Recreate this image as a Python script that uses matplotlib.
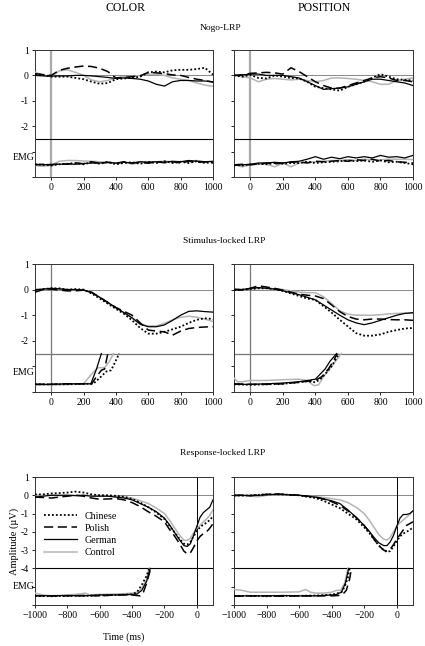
import numpy as np
import matplotlib
matplotlib.use("Agg")
import matplotlib.pyplot as plt
import matplotlib.transforms as mtransforms

plt.rcParams['font.family'] = ['Liberation Serif', 'DejaVu Serif']

groups = ['Chinese', 'Polish', 'German', 'Control']

####################################
# stimulus-locked time grid (ms)
t_stim = [-100, -50, 0, 50, 100, 150, 200, 250, 300, 350, 400, 450, 500,
          550, 600, 650, 700, 750, 800, 850, 900, 950, 1000]

# Nogo-LRP, COLOR
nogo_col_chi = [0.05, 0.02, -0.05, -0.05, -0.05, -0.1, -0.15, -0.25, -0.33, -0.3, -0.15, -0.12,
                -0.1, -0.05, 0.12, 0.15, 0.12, 0.2, 0.22, 0.22, 0.25, 0.3, 0.03]
nogo_col_pol = [0.07, 0.03, 0.0, 0.2, 0.28, 0.33, 0.37, 0.35, 0.28, 0.15, -0.1, -0.08,
                -0.05, -0.02, 0.12, 0.1, 0.07, 0.02, 0.0, -0.08, -0.15, -0.2, -0.27]
nogo_col_ger = [0.0, -0.02, -0.03, -0.02, -0.02, 0.0, 0.0, -0.02, -0.05, -0.08, -0.12, -0.1,
                -0.12, -0.15, -0.22, -0.35, -0.42, -0.25, -0.2, -0.2, -0.22, -0.22, -0.25]
nogo_col_con = [0.13, 0.0, -0.05, 0.18, 0.22, 0.12, 0.0, -0.18, -0.25, -0.2, -0.1, -0.05,
                -0.05, 0.0, 0.05, 0.05, 0.0, -0.1, -0.15, -0.2, -0.3, -0.38, -0.43]
emg_nogo_col_chi = [-3.5, -3.52, -3.55, -3.5, -3.48, -3.45, -3.5, -3.42, -3.48, -3.4, -3.5, -3.45,
                    -3.42, -3.48, -3.4, -3.45, -3.38, -3.45, -3.4, -3.45, -3.38, -3.45, -3.42]
emg_nogo_col_pol = [-3.52, -3.5, -3.53, -3.48, -3.5, -3.44, -3.48, -3.4, -3.46, -3.42, -3.47, -3.4,
                    -3.45, -3.42, -3.46, -3.4, -3.44, -3.4, -3.45, -3.38, -3.42, -3.4, -3.45]
emg_nogo_col_ger = [-3.5, -3.52, -3.5, -3.5, -3.48, -3.5, -3.47, -3.45, -3.45, -3.43, -3.45, -3.42,
                    -3.45, -3.4, -3.42, -3.4, -3.42, -3.38, -3.4, -3.35, -3.38, -3.4, -3.38]
emg_nogo_col_con = [-3.55, -3.58, -3.52, -3.38, -3.35, -3.35, -3.37, -3.38, -3.4, -3.42, -3.45, -3.4,
                    -3.5, -3.42, -3.4, -3.4, -3.38, -3.4, -3.4, -3.38, -3.35, -3.4, -3.4]

# Nogo-LRP, POSITION
nogo_pos_chi = [0.0, -0.05, 0.02, -0.1, -0.12, 0.0, -0.05, -0.1, -0.12, -0.25, -0.45, -0.5,
                -0.55, -0.6, -0.45, -0.35, -0.25, -0.1, 0.05, -0.05, -0.15, -0.18, -0.2]
nogo_pos_pol = [0.0, 0.02, 0.08, 0.1, 0.12, 0.1, 0.05, 0.3, 0.15, -0.05, -0.25, -0.4,
                -0.5, -0.5, -0.4, -0.3, -0.2, -0.1, -0.05, -0.1, -0.2, -0.2, -0.25]
nogo_pos_ger = [0.0, 0.02, 0.05, 0.05, 0.0, 0.0, 0.0, -0.05, -0.1, -0.25, -0.4, -0.55,
                -0.52, -0.5, -0.45, -0.35, -0.25, -0.15, -0.15, -0.2, -0.25, -0.3, -0.4]
nogo_pos_con = [0.0, -0.05, -0.1, -0.25, -0.15, -0.12, -0.15, -0.18, -0.15, -0.2, -0.25, -0.2,
                -0.1, -0.1, -0.12, -0.15, -0.2, -0.25, -0.35, -0.35, -0.2, -0.15, -0.1]
emg_nogo_pos_chi = [-3.52, -3.55, -3.5, -3.48, -3.5, -3.45, -3.48, -3.45, -3.45, -3.4, -3.45, -3.42,
                    -3.4, -3.38, -3.35, -3.38, -3.35, -3.4, -3.35, -3.42, -3.4, -3.45, -3.5]
emg_nogo_pos_pol = [-3.52, -3.5, -3.52, -3.48, -3.45, -3.48, -3.45, -3.42, -3.4, -3.45, -3.38, -3.4,
                    -3.38, -3.35, -3.38, -3.32, -3.35, -3.3, -3.38, -3.35, -3.4, -3.42, -3.45]
emg_nogo_pos_ger = [-3.55, -3.52, -3.5, -3.45, -3.45, -3.42, -3.45, -3.4, -3.38, -3.3, -3.2, -3.3,
                    -3.22, -3.28, -3.2, -3.25, -3.2, -3.25, -3.15, -3.22, -3.2, -3.25, -3.15]
emg_nogo_pos_con = [-3.5, -3.6, -3.52, -3.5, -3.5, -3.6, -3.45, -3.6, -3.45, -3.42, -3.4, -3.38,
                    -3.35, -3.35, -3.32, -3.35, -3.3, -3.32, -3.32, -3.3, -3.3, -3.3, -3.32]

# Stimulus-locked LRP, COLOR
stim_col_chi = [-0.05, 0.02, 0.05, 0.05, 0.0, 0.02, 0.0, -0.15, -0.35, -0.55, -0.75, -0.95,
                -1.2, -1.5, -1.72, -1.72, -1.65, -1.55, -1.45, -1.3, -1.18, -1.12, -1.15]
stim_col_pol = [-0.1, 0.0, 0.02, -0.02, -0.05, -0.05, -0.02, -0.1, -0.3, -0.5, -0.7, -0.85,
                -1.0, -1.3, -1.58, -1.62, -1.65, -1.78, -1.62, -1.52, -1.48, -1.46, -1.45]
stim_col_ger = [0.0, 0.02, 0.05, 0.03, 0.0, 0.0, -0.02, -0.12, -0.3, -0.5, -0.7, -0.9,
                -1.1, -1.35, -1.45, -1.45, -1.38, -1.2, -1.0, -0.85, -0.83, -0.86, -0.88]
stim_col_con = [0.0, 0.0, 0.02, 0.02, 0.0, 0.0, -0.02, -0.12, -0.3, -0.52, -0.72, -0.92,
                -1.12, -1.35, -1.42, -1.42, -1.32, -1.18, -1.08, -1.04, -1.08, -1.15, -1.25]

# Stimulus-locked LRP, POSITION
stim_pos_chi = [-0.02, 0.0, 0.02, 0.05, 0.05, 0.02, -0.05, -0.15, -0.25, -0.35, -0.4, -0.65,
                -0.9, -1.18, -1.44, -1.7, -1.8, -1.8, -1.75, -1.65, -1.58, -1.52, -1.5]
stim_pos_pol = [0.0, -0.02, 0.05, 0.15, 0.1, 0.05, -0.02, -0.1, -0.18, -0.22, -0.25, -0.35,
                -0.6, -0.86, -1.05, -1.15, -1.18, -1.15, -1.15, -1.17, -1.18, -1.18, -1.2]
stim_pos_ger = [0.02, 0.0, 0.05, 0.08, 0.05, 0.02, -0.05, -0.12, -0.2, -0.3, -0.4, -0.6,
                -0.8, -1.0, -1.18, -1.3, -1.37, -1.3, -1.2, -1.1, -1.0, -0.93, -0.9]
stim_pos_con = [0.02, 0.0, 0.02, 0.05, 0.05, 0.03, 0.0, -0.05, -0.1, -0.12, -0.12, -0.28,
                -0.54, -0.83, -0.96, -1.0, -1.0, -1.0, -0.98, -0.95, -0.93, -0.92, -0.92]

# Stimulus-locked EMG onsets (own time points, end at the separator line)
emg_stim_col_chi_t = [-100, 0, 100, 200, 260, 300, 340, 370, 390, 420]
emg_stim_col_chi = [-3.7, -3.7, -3.7, -3.68, -3.68, -3.45, -3.2, -3.15, -2.9, -2.5]
emg_stim_col_pol_t = [-100, 0, 100, 200, 250, 280, 310, 330, 350]
emg_stim_col_pol = [-3.7, -3.7, -3.68, -3.68, -3.68, -3.4, -3.15, -3.1, -2.5]
emg_stim_col_ger_t = [-100, 0, 100, 200, 245, 280, 310]
emg_stim_col_ger = [-3.7, -3.7, -3.68, -3.68, -3.68, -3.1, -2.5]
emg_stim_col_con_t = [-100, 0, 100, 200, 250, 290, 330, 360, 385]
emg_stim_col_con = [-3.72, -3.72, -3.7, -3.68, -3.3, -3.05, -3.05, -2.8, -2.5]

emg_stim_pos_chi_t = [-100, 0, 100, 200, 300, 350, 400, 430, 460, 500, 545]
emg_stim_pos_chi = [-3.7, -3.72, -3.7, -3.68, -3.62, -3.58, -3.62, -3.5, -3.3, -3.0, -2.5]
emg_stim_pos_pol_t = [-100, 0, 100, 200, 300, 350, 400, 440, 480, 510, 535]
emg_stim_pos_pol = [-3.68, -3.7, -3.7, -3.68, -3.62, -3.58, -3.55, -3.4, -3.1, -2.8, -2.5]
emg_stim_pos_ger_t = [-100, 0, 100, 200, 300, 350, 400, 430, 460, 490, 530]
emg_stim_pos_ger = [-3.7, -3.7, -3.68, -3.65, -3.6, -3.55, -3.5, -3.3, -3.1, -2.8, -2.5]
emg_stim_pos_con_t = [-100, -80, -50, 0, 100, 200, 300, 350, 390, 420, 450, 500, 560]
emg_stim_pos_con = [-3.45, -3.6, -3.6, -3.55, -3.55, -3.52, -3.5, -3.55, -3.75, -3.72, -3.4, -3.0, -2.5]

####################################
# response-locked time grid (ms)
t_resp = [-1000, -950, -900, -850, -800, -750, -700, -650, -600, -550, -500, -450, -400,
          -350, -300, -250, -200, -170, -140, -110, -80, -60, -40, -20, 0, 20, 40, 60, 80, 100]

resp_col_chi = [0.05, 0.05, 0.1, 0.12, 0.15, 0.2, 0.15, 0.05, 0.0, 0.0, -0.03, -0.08, -0.2,
                -0.4, -0.65, -0.95, -1.3, -1.65, -2.0, -2.35, -2.65, -2.7, -2.55, -2.25, -1.95,
                -1.75, -1.6, -1.5, -1.35, -1.15]
resp_col_pol = [-0.1, -0.12, -0.15, -0.1, -0.05, 0.0, -0.05, -0.15, -0.22, -0.2, -0.18, -0.25, -0.4,
                -0.62, -0.9, -1.15, -1.45, -1.85, -2.2, -2.6, -3.05, -3.2, -3.15, -2.85, -2.5,
                -2.25, -2.1, -2.0, -1.8, -1.55]
resp_col_ger = [-0.1, -0.05, 0.0, 0.0, 0.0, -0.02, 0.0, -0.05, -0.05, -0.05, -0.1, -0.15, -0.25,
                -0.45, -0.65, -0.9, -1.25, -1.6, -2.0, -2.4, -2.75, -2.8, -2.65, -2.2, -1.7,
                -1.2, -0.95, -0.8, -0.65, -0.25]
resp_col_con = [0.02, 0.0, 0.0, -0.02, 0.0, 0.0, 0.0, -0.02, 0.0, -0.02, -0.05, -0.1, -0.15,
                -0.3, -0.45, -0.7, -1.0, -1.35, -1.75, -2.15, -2.45, -2.47, -2.35, -2.05, -1.8,
                -1.65, -1.45, -1.3, -1.1, -0.8]

resp_pos_chi = [0.0, -0.02, 0.0, 0.02, 0.05, 0.05, 0.05, 0.02, 0.0, -0.08, -0.15, -0.3, -0.5,
                -0.7, -1.0, -1.3, -1.75, -2.05, -2.4, -2.75, -3.0, -3.1, -3.05, -2.8, -2.5,
                -2.25, -2.1, -2.0, -1.9, -1.75]
resp_pos_pol = [-0.02, 0.0, -0.02, 0.02, 0.05, 0.08, 0.05, 0.02, 0.0, -0.05, -0.1, -0.2, -0.35,
                -0.55, -0.85, -1.2, -1.65, -2.0, -2.4, -2.75, -3.0, -3.05, -2.95, -2.7, -2.4,
                -2.15, -1.9, -1.65, -1.55, -1.45]
resp_pos_ger = [0.0, 0.0, -0.02, 0.0, 0.03, 0.05, 0.05, 0.02, 0.0, -0.05, -0.1, -0.2, -0.3,
                -0.45, -0.8, -1.2, -1.65, -1.95, -2.3, -2.6, -2.75, -2.75, -2.55, -2.2, -1.7,
                -1.25, -1.05, -1.05, -1.0, -0.85]
resp_pos_con = [0.05, 0.0, -0.05, -0.08, 0.0, 0.02, 0.02, 0.0, 0.0, -0.05, -0.08, -0.12, -0.18,
                -0.25, -0.4, -0.65, -1.0, -1.35, -1.75, -2.15, -2.4, -2.45, -2.3, -2.0, -1.7,
                -1.5, -1.35, -1.2, -1.05, -0.85]

emg_resp_col_chi_t = [-1000, -900, -800, -700, -600, -500, -400, -370, -340, -310, -295]
emg_resp_col_chi = [-5.5, -5.52, -5.5, -5.5, -5.48, -5.45, -5.42, -5.3, -4.9, -4.4, -4.0]
emg_resp_col_pol_t = [-1000, -900, -800, -700, -600, -500, -400, -350, -330, -310, -285]
emg_resp_col_pol = [-5.5, -5.5, -5.5, -5.48, -5.5, -5.45, -5.45, -5.5, -5.3, -4.8, -4.0]
emg_resp_col_ger_t = [-1000, -900, -800, -700, -600, -500, -400, -370, -340, -310, -288]
emg_resp_col_ger = [-5.48, -5.5, -5.48, -5.5, -5.45, -5.45, -5.42, -5.4, -5.2, -4.7, -4.0]
emg_resp_col_con_t = [-1000, -950, -900, -800, -720, -690, -660, -600, -500, -450, -400, -370,
                      -340, -310, -295]
emg_resp_col_con = [-5.35, -5.45, -5.5, -5.45, -5.4, -5.35, -5.45, -5.42, -5.4, -5.38, -5.35,
                    -5.3, -5.1, -4.6, -4.0]

emg_resp_pos_chi_t = [-1000, -900, -800, -700, -600, -500, -420, -380, -340, -320, -300, -290]
emg_resp_pos_chi = [-5.5, -5.5, -5.52, -5.5, -5.5, -5.48, -5.45, -5.4, -5.3, -5.0, -4.5, -4.0]
emg_resp_pos_pol_t = [-1000, -900, -800, -700, -600, -500, -400, -360, -330, -310, -290, -278]
emg_resp_pos_pol = [-5.52, -5.5, -5.5, -5.52, -5.5, -5.5, -5.5, -5.48, -5.4, -5.2, -4.6, -4.0]
emg_resp_pos_ger_t = [-1000, -900, -800, -700, -600, -500, -400, -370, -340, -315, -295]
emg_resp_pos_ger = [-5.5, -5.5, -5.5, -5.48, -5.5, -5.5, -5.45, -5.42, -5.3, -4.8, -4.0]
emg_resp_pos_con_t = [-1000, -950, -900, -800, -700, -600, -560, -530, -500, -450, -400, -370,
                      -345, -320, -300]
emg_resp_pos_con = [-5.15, -5.2, -5.3, -5.3, -5.3, -5.28, -5.15, -5.3, -5.35, -5.35, -5.3, -5.2,
                    -5.2, -4.8, -4.0]

####################################

styles = [dict(color='black', lw=1.3, ls=(0, (1, 1.2))),
          dict(color='black', lw=1.1, ls=(0, (6, 3))),
          dict(color='black', lw=0.9, ls='-'),
          dict(color='#b4b4b4', lw=1.1, ls='-')]

W, H = 425, 646
fig = plt.figure(figsize=(W / 100, H / 100), dpi=100)


def make_ax(x0, x1, y0, y1):
    return fig.add_axes([x0 / W, 1 - y1 / H, (x1 - x0) / W, (y1 - y0) / H])


def dress(ax, kind, left):
    for s in ax.spines.values():
        s.set_linewidth(0.7)
        s.set_color('#333333')
    ax.tick_params(direction='out', length=2.5, width=0.6, labelsize=7, pad=2)
    ax.axhline(0, color='#888888', lw=0.7, zorder=1)
    if kind == 'resp':
        ax.set_xlim(-1000, 100)
        ax.set_ylim(-6, 1)
        ax.set_xticks(range(-1000, 1, 200))
        ax.set_yticks(range(1, -7, -1))
        ax.set_yticklabels(['1', '0', '-1', '-2', '-3', '-4', '', ''] if left else [])
        ax.axvline(0, color='black', lw=0.7, zorder=1)
        ax.axhline(-4, color='black', lw=0.8, zorder=1)
        emg_y = -5.0
    else:
        ax.set_xlim(-100, 1000)
        ax.set_ylim(-4, 1)
        ax.set_xticks(range(0, 1001, 200))
        ax.set_yticks(range(1, -5, -1))
        ax.set_yticklabels(['1', '0', '-1', '-2', '', ''] if left else [])
        if kind == 'nogo':
            ax.axvline(0, color='#aaaaaa', lw=1.6, zorder=1)
            ax.axhline(-2.5, color='black', lw=0.8, zorder=1)
        else:
            ax.axvline(0, color='#777777', lw=0.9, zorder=1)
            ax.axhline(-2.5, color='#777777', lw=0.9, zorder=1)
        emg_y = -3.25
    if left:
        tr = mtransforms.blended_transform_factory(ax.transAxes, ax.transData)
        ax.text(-0.005, emg_y, 'EMG', transform=tr, ha='right', va='center', fontsize=7)


# columns (pixel edges) and rows
colx = [(35, 213), (234, 413)]
rows = [(50, 177), (264, 392), (477, 605)]

panels = [
    ('nogo', 0, 0, t_stim, [nogo_col_chi, nogo_col_pol, nogo_col_ger, nogo_col_con],
     [(t_stim, emg_nogo_col_chi), (t_stim, emg_nogo_col_pol), (t_stim, emg_nogo_col_ger), (t_stim, emg_nogo_col_con)]),
    ('nogo', 0, 1, t_stim, [nogo_pos_chi, nogo_pos_pol, nogo_pos_ger, nogo_pos_con],
     [(t_stim, emg_nogo_pos_chi), (t_stim, emg_nogo_pos_pol), (t_stim, emg_nogo_pos_ger), (t_stim, emg_nogo_pos_con)]),
    ('stim', 1, 0, t_stim, [stim_col_chi, stim_col_pol, stim_col_ger, stim_col_con],
     [(emg_stim_col_chi_t, emg_stim_col_chi), (emg_stim_col_pol_t, emg_stim_col_pol),
      (emg_stim_col_ger_t, emg_stim_col_ger), (emg_stim_col_con_t, emg_stim_col_con)]),
    ('stim', 1, 1, t_stim, [stim_pos_chi, stim_pos_pol, stim_pos_ger, stim_pos_con],
     [(emg_stim_pos_chi_t, emg_stim_pos_chi), (emg_stim_pos_pol_t, emg_stim_pos_pol),
      (emg_stim_pos_ger_t, emg_stim_pos_ger), (emg_stim_pos_con_t, emg_stim_pos_con)]),
    ('resp', 2, 0, t_resp, [resp_col_chi, resp_col_pol, resp_col_ger, resp_col_con],
     [(emg_resp_col_chi_t, emg_resp_col_chi), (emg_resp_col_pol_t, emg_resp_col_pol),
      (emg_resp_col_ger_t, emg_resp_col_ger), (emg_resp_col_con_t, emg_resp_col_con)]),
    ('resp', 2, 1, t_resp, [resp_pos_chi, resp_pos_pol, resp_pos_ger, resp_pos_con],
     [(emg_resp_pos_chi_t, emg_resp_pos_chi), (emg_resp_pos_pol_t, emg_resp_pos_pol),
      (emg_resp_pos_ger_t, emg_resp_pos_ger), (emg_resp_pos_con_t, emg_resp_pos_con)]),
]

axes = {}
for kind, r, c, t, lrps, emgs in panels:
    ax = make_ax(colx[c][0], colx[c][1], rows[r][0], rows[r][1])
    dress(ax, kind, c == 0)
    # draw control first so black lines sit on top
    for i in [3, 0, 1, 2]:
        st = styles[i]
        ax.plot(t, lrps[i], color=st['color'], lw=st['lw'], ls=st['ls'], label=groups[i], zorder=3)
        et, ev = emgs[i]
        ax.plot(et, ev, color=st['color'], lw=st['lw'], ls=st['ls'], zorder=3)
    axes[(r, c)] = ax

# legend in response-locked COLOR panel
ax = axes[(2, 0)]
h, l = ax.get_legend_handles_labels()
order = [l.index(g) for g in groups]
ax.legend([h[k] for k in order], groups, loc='upper left', bbox_to_anchor=(0.05, 0.73),
          frameon=False, fontsize=7.2, handlelength=3.3, handletextpad=0.8,
          labelspacing=0.32, borderpad=0, borderaxespad=0)
ax.set_ylabel(u'Amplitude (\u00b5V)', fontsize=7.5, labelpad=1)
ax.set_xlabel('Time (ms)', fontsize=7.2, labelpad=9)

fig.text(125 / W, 1 - 8 / H, 'COLOR', ha='center', va='center', fontsize=8.5)
fig.text(324 / W, 1 - 8 / H, 'POSITION', ha='center', va='center', fontsize=8.5)
fig.text(220 / W, 1 - 28 / H, 'Nogo-LRP', ha='center', va='center', fontsize=6.8)
fig.text(224 / W, 1 - 241 / H, 'Stimulus-locked LRP', ha='center', va='center', fontsize=6.8)
fig.text(223 / W, 1 - 453 / H, 'Response-locked LRP', ha='center', va='center', fontsize=6.8)

fig.savefig('out.png', dpi=100)
